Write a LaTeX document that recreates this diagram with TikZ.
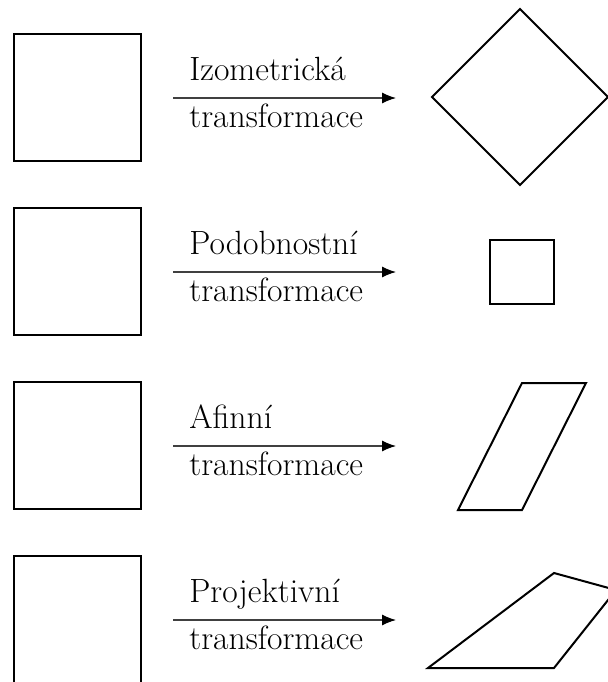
\documentclass[tikz,border=0pt]{standalone}
\usetikzlibrary{arrows.meta}
\begin{document}
\begin{tikzpicture}[x=0.5pt,y=-0.5pt,
  figline/.style={draw=black,line width=1pt,line join=miter},
  trarrow/.style={draw=black!75,line width=0.55pt,-{Latex[length=7pt,width=5.5pt,color=black]}},
  lbl/.style={anchor=base west,inner sep=0pt,font=\fontsize{16.8}{20}\selectfont}]
\useasboundingbox (0,0) rectangle (608,682);
\clip (0,0) rectangle (608,682);
\foreach \r/\top in {1/Izometrická,2/Podobnostní,3/Afinní,4/Projektivní}{
  \pgfmathsetmacro{\oy}{(\r-1)*174}
  \draw[figline] (14,34+\oy) rectangle (141,161+\oy);
  \coordinate (a\r) at (173,98+\oy);
  \coordinate (b\r) at (396,98+\oy);
  \draw[trarrow] (a\r) -- (b\r);
  \node[lbl] (t\r) at (189,80+\oy) {\top};
  \node[lbl] (u\r) at (189,127.5+\oy) {transformace};
}
% results
\draw[figline] (432,97) -- (520,9) -- (608,97) -- (520,185) -- cycle;
\draw[figline] (490,240) rectangle (554,304);
\draw[figline] (458,510) -- (522,510) -- (586,383) -- (522,383) -- cycle;
\draw[figline] (428,668) -- (554,668) -- (616,590) -- (554,573) -- cycle;
\end{tikzpicture}
\end{document}
